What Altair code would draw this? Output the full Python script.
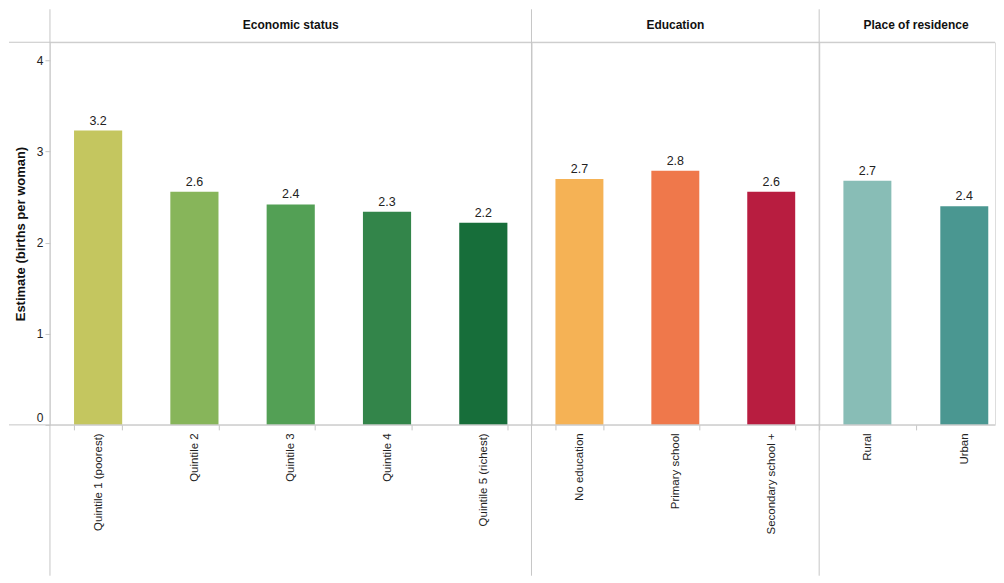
import altair as alt
import pandas as pd

# ---- data ----
groups = ["Economic status", "Education", "Place of residence"]

econ_cats = ["Quintile 1 (poorest)", "Quintile 2", "Quintile 3", "Quintile 4", "Quintile 5 (richest)"]
econ_vals = [3.23, 2.56, 2.42, 2.34, 2.22]
econ_colors = ["#c4c65f", "#87b55a", "#53a055", "#33854a", "#176e3a"]

edu_cats = ["No education", "Primary school", "Secondary school +"]
edu_vals = [2.70, 2.79, 2.56]
edu_colors = ["#f5b255", "#ef784b", "#b81d40"]

res_cats = ["Rural", "Urban"]
res_vals = [2.68, 2.40]
res_colors = ["#88bdb6", "#4a9791"]

y_ticks = [0, 1, 2, 3, 4]
y_title = "Estimate (births per woman)"

all_cats = econ_cats + edu_cats + res_cats
all_colors = econ_colors + edu_colors + res_colors

H = 383
LINE = "#c6c6c6"
FONT = "Liberation Sans"
XLAB = 11.5


def panel(cats, vals, header, width, first, full_width=None, clipped=False):
    df = pd.DataFrame({"cat": cats, "val": vals})
    base = alt.Chart(df)
    if clipped:
        # panel is cut off by the window edge on the right: keep the band
        # step of the full panel and push the spare room to the right
        step = full_width / len(cats)
        n = len(cats)
        pi = 0.505
        po = ((width / step) - (n - pi)) / 2
        leftover = width - step * (n - pi)
        align = (step * 0.25) / leftover if leftover > 0 else 0.5
        sc = alt.Scale(paddingInner=pi, paddingOuter=po, align=align)
        ax = alt.Axis(
            title=None, labelAngle=-90, labelFontSize=XLAB, labelColor="#222",
            labelPadding=3, tickColor=LINE, tickSize=5, tickOffset=-step / 2,
            labelOffset=step / 2,
            domain=False, labelLimit=250, labelFont=FONT,
        )
        head_x = full_width / 2
    else:
        sc = alt.Scale(paddingInner=0.5, paddingOuter=0.25)
        ax = alt.Axis(
            title=None, labelAngle=-90, labelFontSize=XLAB, labelColor="#222",
            labelPadding=3, tickBand="extent", tickColor=LINE, tickSize=5,
            domain=False, labelLimit=250, labelFont=FONT,
        )
        head_x = width / 2
    x = alt.X("cat:N", sort=cats, scale=sc, axis=ax)
    if first:
        yaxis = alt.Axis(
            title=y_title, titleFontSize=13, titleFontWeight="bold", titleColor="#111",
            titleFont=FONT, values=y_ticks, format="d", tickSize=5, tickColor=LINE,
            labelFontSize=12, labelColor="#222", labelPadding=2, labelFont=FONT,
            domain=False, grid=False, titlePadding=9, labelFlush=True,
        )
    else:
        yaxis = None
    y = alt.Y("val:Q", scale=alt.Scale(domain=[0, 4.2], nice=False, zero=True), axis=yaxis)

    bars = base.mark_bar().encode(
        x=x, y=y,
        color=alt.Color("cat:N", scale=alt.Scale(domain=all_cats, range=all_colors), legend=None),
    )
    labels = base.mark_text(baseline="bottom", dy=-3, fontSize=12.5, color="#222", font=FONT).encode(
        x=alt.X("cat:N", sort=cats), y="val:Q", text=alt.Text("val:Q", format=".1f")
    )
    one = alt.Chart(pd.DataFrame({"h": [header]}))
    head = one.mark_text(fontWeight="bold", fontSize=12, color="#111", font=FONT).encode(
        x=alt.value(head_x), y=alt.value(-17), text="h:N"
    )
    left = -41 if first else 0
    vline = one.mark_rule(color=LINE, strokeWidth=1).encode(
        x=alt.value(0), y=alt.value(-33), y2=alt.value(534)
    )
    topline = one.mark_rule(color=LINE, strokeWidth=1).encode(
        x=alt.value(left), x2=alt.value(width), y=alt.value(0)
    )
    baseline = one.mark_rule(color=LINE, strokeWidth=1).encode(
        x=alt.value(left), x2=alt.value(width), y=alt.value(H)
    )
    return alt.layer(vline, topline, bars, baseline, labels, head).properties(width=width, height=H)


chart = (
    alt.hconcat(
        panel(econ_cats, econ_vals, groups[0], 482, True),
        panel(edu_cats, edu_vals, groups[1], 288, False),
        panel(res_cats, res_vals, groups[2], 176, False, full_width=194, clipped=True),
        spacing=0,
        bounds="flush",
    )
    .resolve_scale(x="independent")
    .properties(padding=0)
    .configure_view(stroke=None)
    .configure(font=FONT)
)

chart.save("out.html", embed_options={"renderer": "svg", "actions": False})
